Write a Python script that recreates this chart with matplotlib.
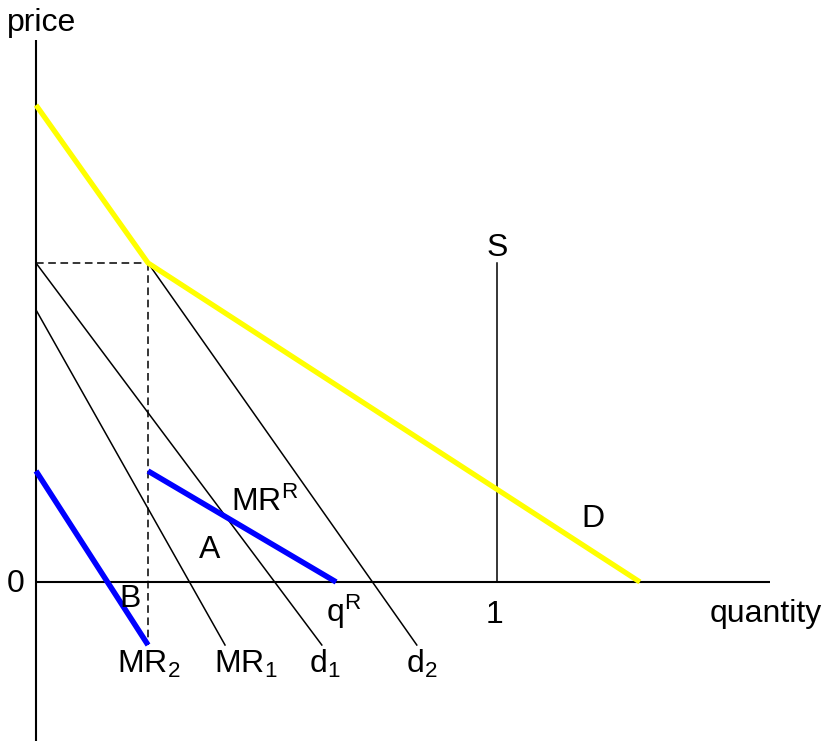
import matplotlib
matplotlib.use("Agg")
import matplotlib.pyplot as plt

plt.rcParams['font.family'] = ['Liberation Sans', 'DejaVu Sans']
plt.rcParams['mathtext.fontset'] = 'custom'
plt.rcParams['mathtext.rm'] = 'Liberation Sans'
plt.rcParams['mathtext.it'] = 'Liberation Sans:italic'

# Curves (quantity, price); price 1 = dashed kink level, quantity 1 = S
D_q = [0.0, 0.243, 1.31]
D_p = [1.495, 1.0, 0.0]
d1_q = [0.0, 0.620]
d1_p = [1.0, -0.1975]
d2_q = [0.243, 0.826]
d2_p = [1.0, -0.1975]
MR1_q = [0.0, 0.41]
MR1_p = [0.853, -0.1975]
MR2_q = [0.0, 0.243]
MR2_p = [0.348, -0.1975]
MRR_q = [0.243, 0.651]
MRR_p = [0.348, 0.0]
S_q = [1.0, 1.0]
S_p = [0.0, 1.0]
kink_q = 0.243
kink_p = 1.0

fig = plt.figure(figsize=(8.25, 7.41), dpi=100)
ax = fig.add_axes([0, 0, 1, 1])
ax.set_xlim(-36 / 461, (825 - 36) / 461)
ax.set_ylim(-159 / 319, 582 / 319)
ax.axis('off')

# axes lines
ax.plot([0, 0], [-0.5, 1.699], color='black', lw=1.5, solid_capstyle='butt')
ax.plot([0, 1.592], [0, 0], color='black', lw=1.5, solid_capstyle='butt')

# dashed guides
ax.plot([0, kink_q], [kink_p, kink_p], 'k--', lw=1.1, dashes=(5, 3))
ax.plot([kink_q, kink_q], [kink_p, -0.1975], 'k--', lw=1.1, dashes=(5, 3))

# thin black lines
for q, p in [(d1_q, d1_p), (d2_q, d2_p), (MR1_q, MR1_p), (S_q, S_p)]:
    ax.plot(q, p, color='black', lw=1.1)

# thick coloured lines
ax.plot(D_q, D_p, color='#FFFF00', lw=3.8, solid_capstyle='butt')
ax.plot(MR2_q, MR2_p, color='#0000FF', lw=4.0, solid_capstyle='butt')
ax.plot(MRR_q, MRR_p, color='#0000FF', lw=4.0, solid_capstyle='butt')

def px(x, y):
    return (x - 36) / 461, (582 - y) / 319

fs = 23
labels = [
    ("price", 42, 31, 'center'),
    ("0", 16, 592, 'center'),
    ("1", 494, 623, 'center'),
    ("quantity", 766, 622, 'center'),
    ("S", 497, 256, 'center'),
    ("D", 593, 527, 'center'),
    ("A", 210, 558, 'center'),
    ("B", 130, 607, 'center'),
    ("MR$^\\mathregular{R}$", 231, 511, 'left'),
    ("q$^\\mathregular{R}$", 326, 622, 'left'),
    ("MR$_\\mathregular{2}$", 117, 673, 'left'),
    ("MR$_\\mathregular{1}$", 214, 673, 'left'),
    ("d$_\\mathregular{1}$", 309, 673, 'left'),
    ("d$_\\mathregular{2}$", 406, 673, 'left'),
]
for txt, x, y, ha in labels:
    xx, yy = px(x, y)
    ax.text(xx, yy, txt, fontsize=fs, ha=ha, va='baseline')

fig.savefig("out.png", dpi=100)
